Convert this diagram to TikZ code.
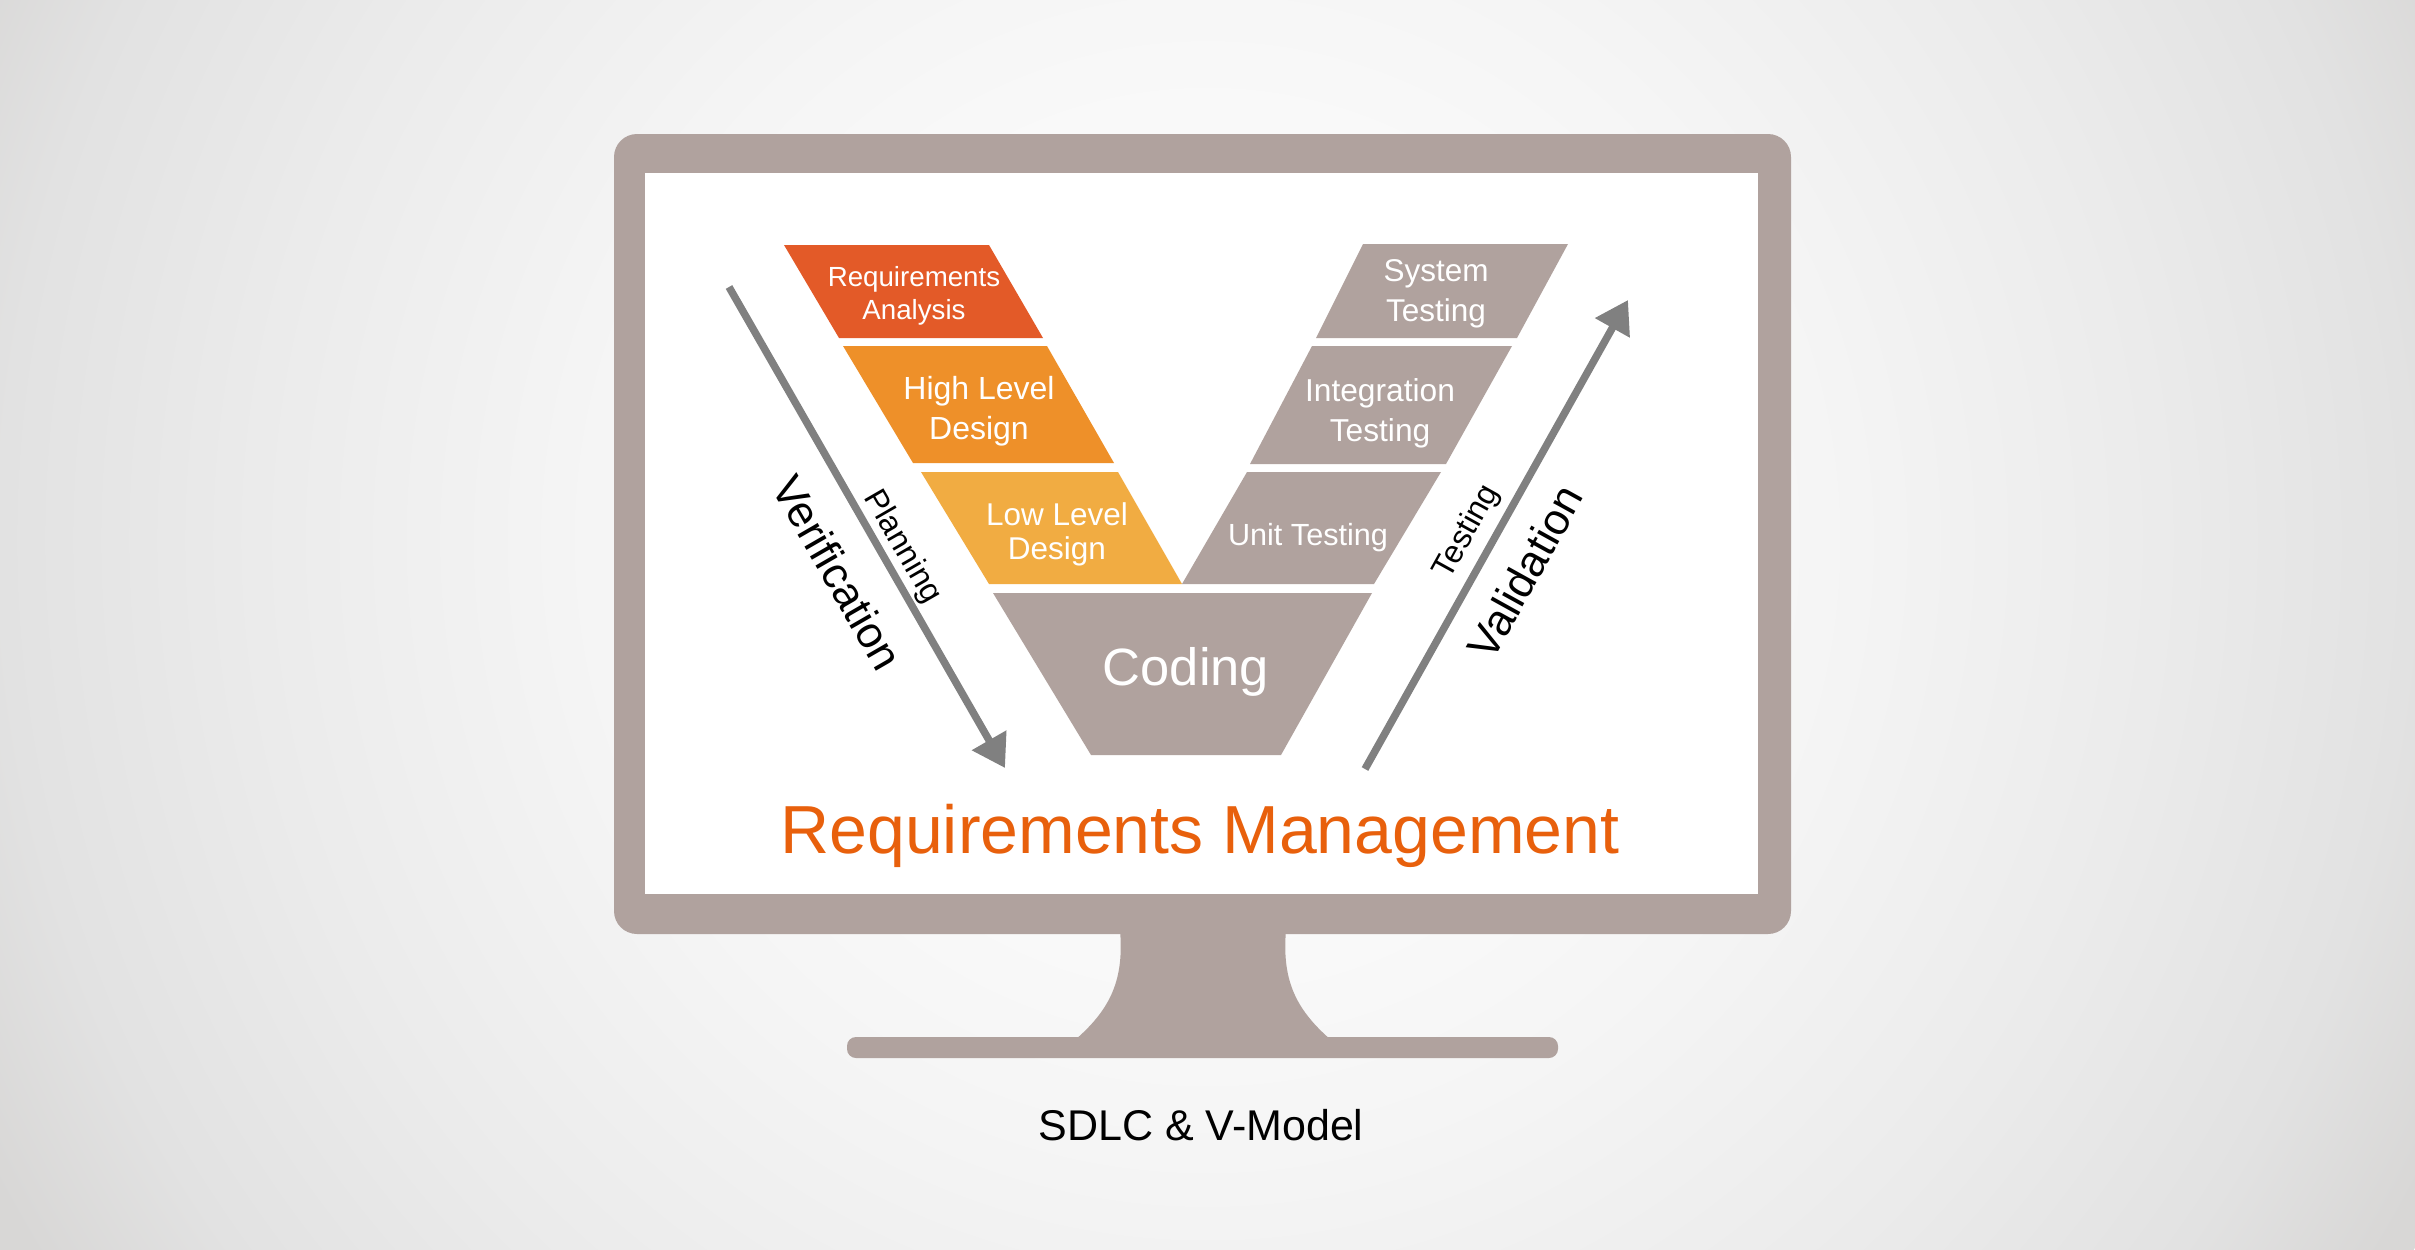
\documentclass[tikz,border=0pt]{standalone}
\usepackage{fontspec}
\setmainfont{Liberation Sans}
\usetikzlibrary{arrows.meta}
\definecolor{monitor}{HTML}{B0A29E}
\definecolor{raC}{HTML}{E35A28}
\definecolor{hldC}{HTML}{EE9029}
\definecolor{lldC}{HTML}{F1AC42}
\definecolor{rmC}{HTML}{E8600C}
\definecolor{arrowC}{HTML}{808080}
\definecolor{bgA}{HTML}{FBFBFB}
\definecolor{bgB}{HTML}{F5F5F5}
\definecolor{bgC}{HTML}{EBEBEB}
\definecolor{bgD}{HTML}{E2E2E2}
\definecolor{bgE}{HTML}{D8D7D6}
\pgfdeclareradialshading{bgshade}{\pgfpoint{0bp}{0bp}}{color(0bp)=(bgA); color(6bp)=(bgA); color(11bp)=(bgB); color(17bp)=(bgC); color(21.5bp)=(bgD); color(24.5bp)=(bgE); color(50bp)=(bgE)}
\tikzset{
  boxtext/.style={text=white, align=center, inner sep=0pt},
  lbl/.style={text=black, inner sep=0pt},
  vline/.style={draw=arrowC, line width=7.5pt, -{Triangle[length=32pt,width=38pt]}},
}
\newcommand{\fs}[2]{\fontsize{#1}{#2}\selectfont}
\begin{document}
\begin{tikzpicture}[x=1pt,y=-1pt]
\useasboundingbox (0,0) rectangle (2415,1250);
\begin{scope}
  \clip (0,0) rectangle (2415,1250);
  \shade[shading=bgshade] (1207,540) circle (1400);
\end{scope}
% monitor
\fill[monitor, rounded corners=23pt] (614,134) rectangle (1791,934);
\fill[white] (645,173) rectangle (1758,894);
\fill[monitor] (1120,930) .. controls (1124,978) and (1112,1008) .. (1075,1040)
  -- (1331,1040) .. controls (1294,1008) and (1282,978) .. (1286,930) -- cycle;
\fill[monitor, rounded corners=9pt] (847,1037) rectangle (1558,1058);
% V model shapes
\fill[raC] (784,245) -- (989,245) -- (1043,338) -- (839,338) -- cycle;
\fill[hldC] (843,346) -- (1047,346) -- (1114,463) -- (913,463) -- cycle;
\fill[lldC] (921,472) -- (1118,472) -- (1182,584) -- (989,584) -- cycle;
\fill[monitor] (1363,244) -- (1568,244) -- (1517,338) -- (1316,338) -- cycle;
\fill[monitor] (1312,346) -- (1512,346) -- (1446,464) -- (1250,464) -- cycle;
\fill[monitor] (1247,472) -- (1441,472) -- (1374,584) -- (1182,584) -- cycle;
\fill[monitor] (993,593) -- (1372,593) -- (1281,755) -- (1091,755) -- cycle;
% texts in shapes
\node[boxtext, font=\fs{27.7}{33}] (ra) at (914,296) {Requirements\\Analysis};
\node[boxtext, font=\fs{32}{40}] (hld) at (979,411) {High Level\\Design};
\node[boxtext, font=\fs{31.5}{34}] (lld) at (1057,534) {Low Level\\Design};
\node[boxtext, font=\fs{31.5}{40}] (st) at (1436,294) {System\\Testing};
\node[boxtext, font=\fs{31.7}{40}] (it) at (1380,413) {Integration\\Testing};
\node[boxtext, font=\fs{30.6}{36}, anchor=base] (ut) at (1308,545) {Unit Testing};
\node[boxtext, font=\fs{52.5}{60}, anchor=base] (cod) at (1186,685) {Coding};
% arrows
\coordinate (vs) at (729,287);
\coordinate (ve) at (1005,768);
\coordinate (ts) at (1365,769);
\coordinate (te) at (1628,300);
\draw[vline] (vs) -- (ve);
\draw[vline] (ts) -- (te);
\node[lbl, font=\fs{32}{38}, rotate=-60] (plan) at (902,547) {Planning};
\node[lbl, font=\fs{44}{50}, rotate=-60] (verif) at (838,573) {Verification};
\node[lbl, font=\fs{32}{38}, rotate=61] (testl) at (1467,532) {Testing};
\node[lbl, font=\fs{44}{50}, rotate=61] (valid) at (1525,572) {Validation};
% titles
\node[text=rmC, inner sep=0pt, anchor=base, font=\fs{68}{76}] (rm) at (1200,853) {Requirements Management};
\node[text=black, inner sep=0pt, anchor=base, font=\fs{43}{50}] (sdlc) at (1201,1140) {SDLC \& V-Model};
\end{tikzpicture}
\end{document}
